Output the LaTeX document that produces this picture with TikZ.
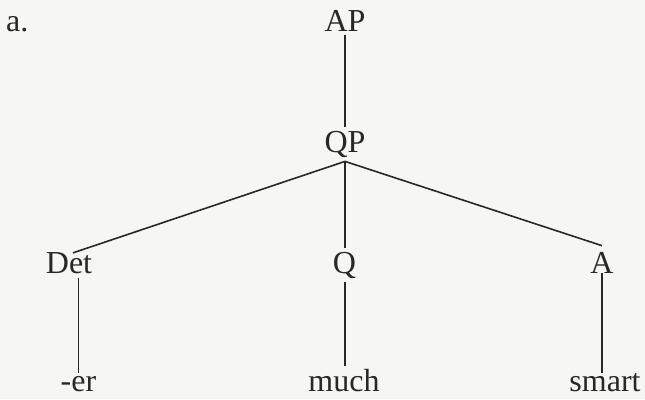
\documentclass[tikz,border=0pt]{standalone}
\usepackage{fontspec}
\setmainfont{Liberation Serif}
\definecolor{bg}{RGB}{246,246,243}
\definecolor{ink}{RGB}{40,40,40}
\begin{document}
\begin{tikzpicture}[x=1pt,y=-1pt,
  lab/.style={font=\fontsize{32}{38}\selectfont, text=ink, inner sep=4pt, anchor=base},
  leaf/.style={lab, inner ysep=2pt},
  edge/.style={draw=ink, line width=1.6pt}]
\fill[bg] (0,0) rectangle (645,399);
\useasboundingbox (0,0) rectangle (645,399);
\node[lab, anchor=base west, inner sep=0pt] (alab) at (6,31) {a.};
\node[lab] (AP) at (345,31) {AP};
\node[lab] (QP) at (345,152) {QP};
\node[lab] (Det) at (69,273) {Det};
\node[lab] (Q) at (344.5,273) {Q};
\node[lab] (A) at (602,273) {A};
\node[leaf] (er) at (78.5,391) {-er};
\node[leaf] (much) at (344,391) {much};
\node[leaf] (smart) at (605,391) {smart};
\draw[edge] (AP.south) -- (QP.north);
\draw[edge] (QP.south) -- ([xshift=4pt,yshift=-5pt]Det.north);
\draw[edge] (QP.south) -- (Q.north -| QP.south);
\draw[edge] (QP.south) -- ([yshift=2pt]A.north);
\draw[edge] (er.north |- Det.south) -- ([yshift=1pt]er.north);
\draw[edge] (Q.south -| QP.south) -- ([yshift=1pt]much.north -| QP.south);
\draw[edge] ([yshift=4pt]A.south -| A.south) -- ([yshift=-2pt]smart.north -| A.south);
\end{tikzpicture}
\end{document}
